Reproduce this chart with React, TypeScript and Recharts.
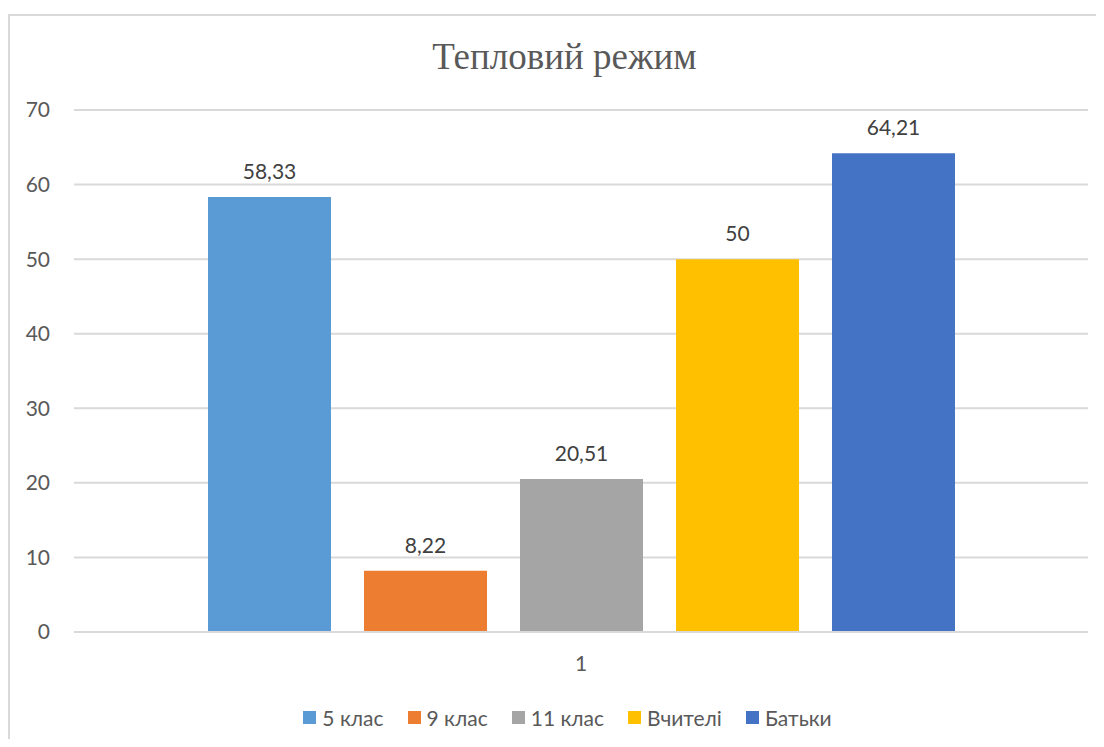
import { BarChart, Bar, XAxis, YAxis, CartesianGrid, Legend, LabelList } from "recharts";

const categories = ["1"];
const seriesNames = ["5 клас", "9 клас", "11 клас", "Вчителі", "Батьки"];
const seriesValues = [58.33, 8.22, 20.51, 50, 64.21];
const seriesColors = ["#5b9bd5", "#ed7d31", "#a5a5a5", "#ffc000", "#4472c4"];
const yTicks = [0, 10, 20, 30, 40, 50, 60, 70];

const data = categories.map((c) => {
  const row: any = { name: c };
  seriesNames.forEach((s, i) => {
    row[s] = seriesValues[i];
  });
  return row;
});

const FONT = "Lato, 'Open Sans', sans-serif";

const fmt = (v: any) => String(v).replace(".", ",");

function LegendContent() {
  return (
    <div style={{ display: "flex", justifyContent: "center", alignItems: "center", gap: 24, fontFamily: FONT, fontSize: 21, color: "#595959", height: 24 }}>
      {seriesNames.map((s, i) => (
        <div key={s} style={{ display: "flex", alignItems: "center" }}>
          <span style={{ width: 13, height: 13, background: seriesColors[i], marginRight: 6, display: "inline-block" }} />
          <span>{s}</span>
        </div>
      ))}
    </div>
  );
}

export default function App() {
  return (
    <div style={{ position: "relative", width: 1088, height: 731, overflow: "hidden" }}>
      <div
        style={{
          position: "absolute",
          left: 0,
          top: 6,
          width: 1200,
          height: 900,
          borderTop: "2px solid #d9d9d9",
          borderLeft: "2px solid #d9d9d9",
        }}
      />
      <div
        style={{
          position: "absolute",
          left: 256.5,
          top: 30,
          width: 600,
          textAlign: "center",
          fontFamily: "'Liberation Serif', 'Times New Roman', serif",
          fontSize: 37,
          lineHeight: "37px",
          color: "#595959",
        }}
      >
        Тепловий режим
      </div>
      <div style={{ position: "absolute", left: 0, top: 0 }}>
        <BarChart
          width={1088}
          height={731}
          data={data}
          margin={{ top: 102, right: 8, bottom: 77, left: 0 }}
          barSize={123}
          barGap={33}
        >
          <CartesianGrid vertical={false} stroke="#d9d9d9" strokeWidth={2} />
          <XAxis
            dataKey="name"
            height={30}
            axisLine={{ stroke: "#d9d9d9", strokeWidth: 2 }}
            tickLine={false}
            tickSize={0}
            tickMargin={24}
            tick={{ fill: "#595959", fontSize: 21, fontFamily: FONT }}
          />
          <YAxis
            width={66}
            domain={[0, 70]}
            ticks={yTicks}
            axisLine={false}
            tickLine={false}
            tickSize={0}
            tickMargin={24}
            tick={{ fill: "#595959", fontSize: 21, fontFamily: FONT }}
          />
          <Legend
            verticalAlign="middle"
            align="center"
            layout="horizontal"
            wrapperStyle={{ top: 697, left: 159.5, width: 800 }}
            content={() => <LegendContent />}
          />
          {seriesNames.map((s, i) => (
            <Bar key={s} dataKey={s} fill={seriesColors[i]} isAnimationActive={false}>
              <LabelList
                dataKey={s}
                position="top"
                offset={18}
                formatter={fmt}
                style={{ fill: "#404040", fontSize: 21, fontFamily: FONT }}
              />
            </Bar>
          ))}
        </BarChart>
      </div>
    </div>
  );
}
